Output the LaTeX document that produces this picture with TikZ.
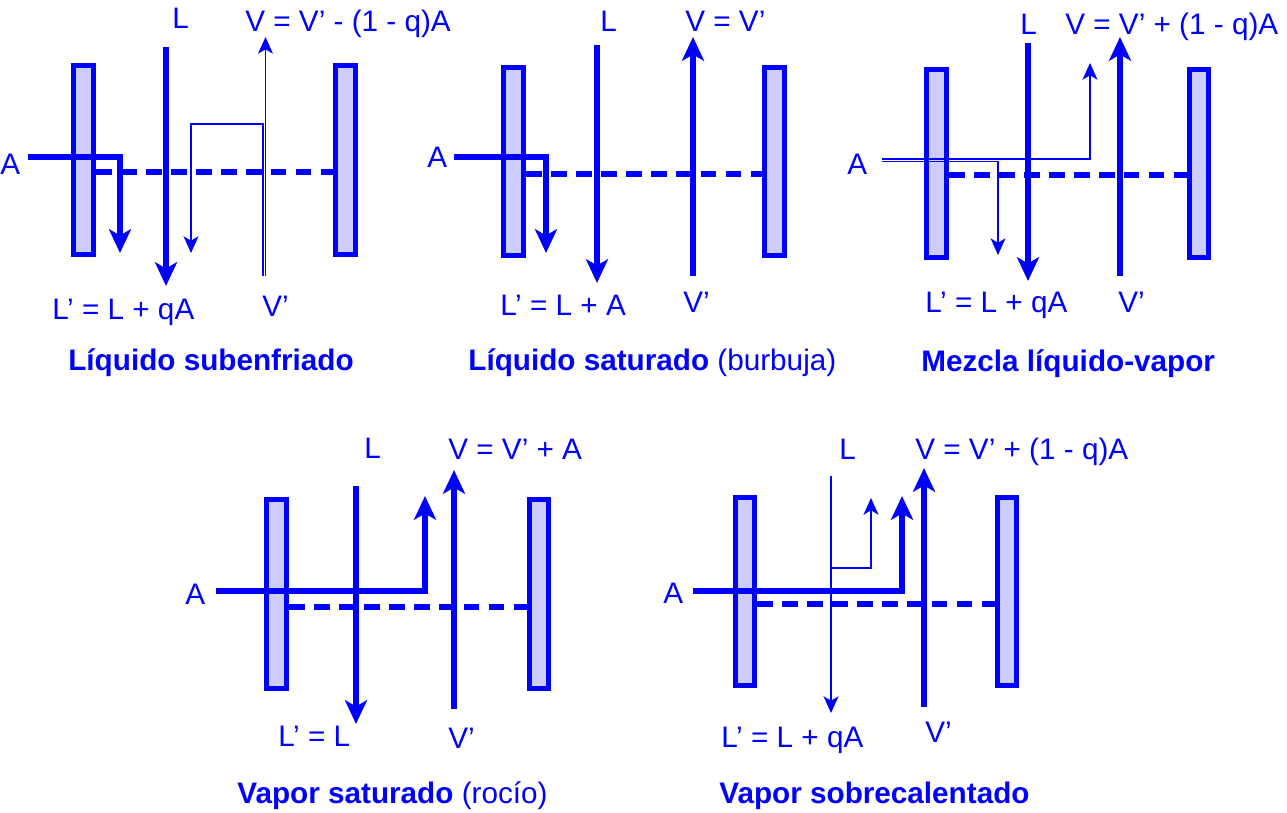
\documentclass[tikz,border=0pt]{standalone}
\usepackage{fontspec}
\setmainfont{Liberation Sans}
\usetikzlibrary{arrows.meta,positioning}

\begin{document}
\begin{tikzpicture}[x=0.02cm, y=-0.02cm,
    plate/.style={draw=blue, line width=3.1pt, fill=blue!20},
    flow/.style={blue, line width=2.9pt, -{Stealth[length=13.5pt,width=12.5pt,inset=3.5pt]}},
    thinflow/.style={blue, line width=0.65pt, -{Stealth[length=9.5pt,width=8.5pt,inset=2.5pt]}},
    stage/.style={blue, line width=3.2pt, dash pattern=on 9pt off 5.2pt},
    lbl/.style={anchor=base west, text=blue, inner sep=0pt, font=\fontsize{16.9}{19}\selectfont},
    title/.style={lbl, font=\fontsize{16.9}{19}\selectfont\bfseries}]
    \useasboundingbox (0,0) rectangle (1287,813);

    % Liquido subenfriado
    \draw[plate] (73.5,65.5) rectangle (93.5,254.5);
    \draw[plate] (335.5,65.5) rectangle (355.5,254.5);
    \draw[stage] (96,172) -- (338,172);
    \draw[flow] (166,47) -- (166,286);
    \draw[flow] (28,157) -| (120,253);
    \draw[thinflow] (265.5,276) -- (265.5,37);
    \draw[thinflow] (263,276) |- (191,124) -- (191,253);
    \node[lbl] (a1) at (0,175) {A};
    \node[lbl] (l1) at (172,29) {L};
    \node[lbl] (v1) at (245,32) {V = V’ - (1 - q)A};
    \node[lbl] (lp1) at (52,320) {L’ = L + qA};
    \node[lbl] (vp1) at (262,317) {V’};
    \node[title] (t1) at (68,371) {Líquido subenfriado};

    % Liquido saturado
    \draw[plate] (503.5,67.5) rectangle (523.5,255.5);
    \draw[plate] (764.5,67.5) rectangle (784.5,255.5);
    \draw[stage] (526,174) -- (767,174);
    \draw[flow] (597,45) -- (597,283);
    \draw[flow] (693,276) -- (693,37);
    \draw[flow] (454,157) -| (546,253);
    \node[lbl] (a2) at (427,168) {A};
    \node[lbl] (l2) at (600,32) {L};
    \node[lbl] (v2) at (685,32) {V = V’};
    \node[lbl] (lp2) at (500,316) {L’ = L + A};
    \node[lbl] (vp2) at (683,313) {V’};
    \node[title] (t2) at (468,371) {Líquido saturado \mdseries(burbuja)};

    % Mezcla liquido-vapor
    \draw[plate] (926.5,69.5) rectangle (946.5,257.5);
    \draw[plate] (1189.5,69.5) rectangle (1208.5,257.5);
    \draw[stage] (949,175) -- (1191,175);
    \draw[flow] (1028,43) -- (1028,281);
    \draw[flow] (1120,276) -- (1120,37);
    \draw[thinflow] (882,159) -| (1090,63);
    \draw[thinflow] (882,161.5) -| (998,255);
    \node[lbl] (a3) at (847,175) {A};
    \node[lbl] (l3) at (1020,35) {L};
    \node[lbl] (v3) at (1065,35) {V = V’ + (1 - q)A};
    \node[lbl] (lp3) at (925,313) {L’ = L + qA};
    \node[lbl] (vp3) at (1118,313) {V’};
    \node[title] (t3) at (921,372) {Mezcla líquido-vapor};

    % Vapor saturado
    \draw[plate] (266.5,499.5) rectangle (286.5,688.5);
    \draw[plate] (529.5,499.5) rectangle (548.5,688.5);
    \draw[stage] (289,607) -- (531,607);
    \draw[flow] (356,486) -- (356,724);
    \draw[flow] (454,709) -- (454,470);
    \draw[flow] (216,591) -| (425,496);
    \node[lbl] (a4) at (185,604) {A};
    \node[lbl] (l4) at (364,459) {L};
    \node[lbl] (v4) at (448,460) {V = V’ + A};
    \node[lbl] (lp4) at (278,746) {L’ = L};
    \node[lbl] (vp4) at (448,748) {V’};
    \node[title] (t4) at (237,803) {Vapor saturado \mdseries(rocío)};

    % Vapor sobrecalentado
    \draw[plate] (735.5,497.5) rectangle (754.5,685.5);
    \draw[plate] (997.5,497.5) rectangle (1016.5,685.5);
    \draw[stage] (757,604) -- (999,604);
    \draw[thinflow] (831,476) -- (831,713);
    \draw[thinflow] (831,568) -| (871,498);
    \draw[flow] (693,591) -| (902,496);
    \draw[flow] (924,707) -- (924,468);
    \node[lbl] (a5) at (663,603) {A};
    \node[lbl] (l5) at (839,460) {L};
    \node[lbl] (v5) at (915,460) {V = V’ + (1 - q)A};
    \node[lbl] (lp5) at (721,747) {L’ = L + qA};
    \node[lbl] (vp5) at (925,742) {V’};
    \node[title] (t5) at (719,803) {Vapor sobrecalentado};
\end{tikzpicture}
\end{document}
